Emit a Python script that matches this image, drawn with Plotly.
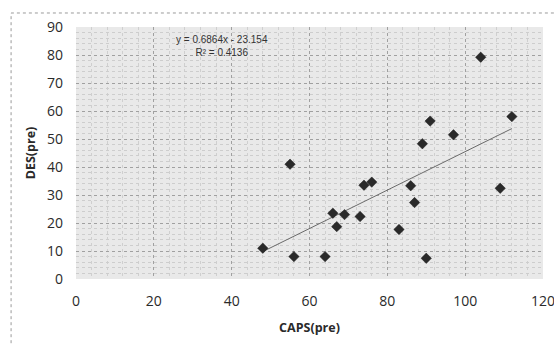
import plotly.graph_objects as go

caps_pre = [48, 55, 56, 64, 66, 67, 69, 73, 74, 76, 83, 86, 87, 90, 89, 91, 97, 104, 109, 112]
des_pre = [11, 41, 8, 8, 23.5, 18.7, 23, 22.3, 33.5, 34.6, 17.7, 33.3, 27.3, 7.4, 48.3, 56.4, 51.5, 79.2, 32.4, 58]

slope = 0.6864
intercept = -23.154
r2 = 0.4136

x_ticks = [0, 20, 40, 60, 80, 100, 120]
y_ticks = [0, 10, 20, 30, 40, 50, 60, 70, 80, 90]

tx = [min(caps_pre), max(caps_pre)]
ty = [slope * v + intercept for v in tx]

fig = go.Figure()
fig.add_trace(go.Scatter(
    x=tx, y=ty, mode="lines",
    line=dict(color="#6a6a6a", width=1),
    showlegend=False, hoverinfo="skip"))
fig.add_trace(go.Scatter(
    x=caps_pre, y=des_pre, mode="markers",
    marker=dict(symbol="diamond", size=8, color="#2a2a2a",
                line=dict(color="#1a1a1a", width=0.5)),
    showlegend=False))

fig.add_annotation(
    x=37.5, y=83.2, xref="x", yref="y",
    text="y = 0.6864x - 23.154<br>R² = 0.4136",
    showarrow=False, align="center",
    font=dict(family="Liberation Sans", size=10, color="#333333"))

fig.add_shape(type="rect", xref="paper", yref="paper",
              x0=-0.139, y0=-0.30, x1=1.04, y1=1.0556,
              line=dict(color="#9a9a9a", width=1, dash="dot"),
              layer="below")

axis_font = dict(family="Open Sans", size=14, color="#2a2a2a")
title_font = dict(family="Open Sans", size=12.5, color="#2a2a2a")
fig.update_layout(
    width=554, height=345,
    margin=dict(l=76, r=11, t=27, b=66, autoexpand=False),
    paper_bgcolor="white",
    plot_bgcolor="#e9e9e9",
    font=axis_font,
    xaxis=dict(
        range=[0, 120], tickvals=x_ticks, ticktext=[str(v) for v in x_ticks],
        showgrid=True, gridcolor="#a0a0a0", griddash="dot", gridwidth=1,
        minor=dict(dtick=4, showgrid=True, gridcolor="#cfcfcf", griddash="dot", gridwidth=1),
        zeroline=False, showline=False, ticks="", ticklabelstandoff=12,
        ticklabeloverflow="allow",
        automargin=False,
        title=dict(text="<b>CAPS(pre)</b>", font=title_font, standoff=14),
        tickfont=axis_font,
    ),
    yaxis=dict(
        range=[0, 90], tickvals=y_ticks, ticktext=[str(v) for v in y_ticks],
        showgrid=True, gridcolor="#a0a0a0", griddash="dot", gridwidth=1,
        minor=dict(dtick=2, showgrid=True, gridcolor="#cdcdcd", griddash="dot", gridwidth=1),
        zeroline=False, showline=False, ticks="", ticklabelstandoff=12,
        ticklabeloverflow="allow",
        automargin=False,
        title=dict(text="<b>DES(pre)</b>", font=title_font, standoff=8),
        tickfont=axis_font,
    ),
)

fig.write_html(
    "out.html",
    config={"displayModeBar": False},
    post_script="document.body.style.margin='0';document.body.style.overflow='hidden';",
)
